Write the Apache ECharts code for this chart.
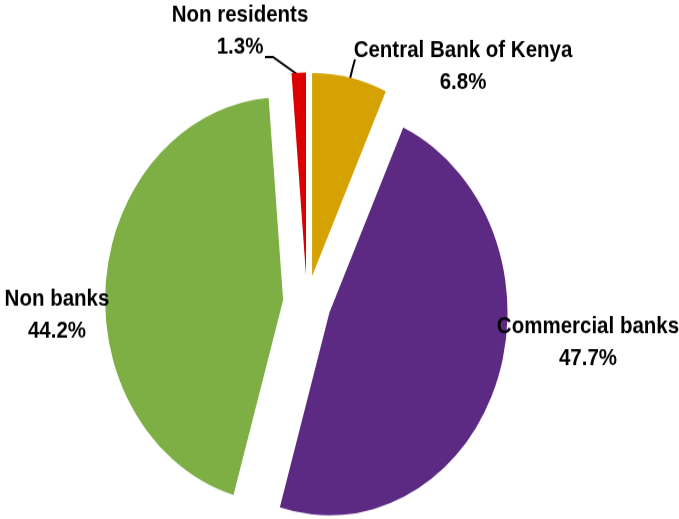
<!DOCTYPE html>
<html>
<head>
<meta charset="utf-8">
<script src="https://cdn.jsdelivr.net/npm/echarts@6/dist/echarts.min.js"></script>
<style>
html,body{margin:0;padding:0;background:#fff;overflow:hidden;}
#wrap{width:679px;height:519px;overflow:hidden;}
#chart{width:679px;height:455px;transform:scaleY(1.1407);transform-origin:0 0;}
</style>
</head>
<body>
<div id="wrap"><div id="chart"></div></div>
<script>
const categories = ['Central Bank of Kenya', 'Commercial banks', 'Non banks', 'Non residents'];
const shares = [6.8, 47.7, 44.2, 1.3];
const colors = ['#D6A103', '#5C2983', '#7DAF45', '#DD0000'];

// layout (unscaled chart coordinates)
const CX = 307, CY = 265.5, R = 178, EXPLODE = 24;
const labelPos = [
  {x: 463, y: 58},
  {x: 588, y: 300},
  {x: 57, y: 276},
  {x: 240, y: 27.5}
];
const linePts = {
  0: [[350, 69], [352.5, 60], [355, 52]],
  3: [[297, 65], [273, 50], [265, 50]]
};

const total = shares.reduce((a, b) => a + b, 0);
let acc = 0;
const series = categories.map((name, i) => {
  const start = acc / total * 2 * Math.PI;
  acc += shares[i];
  const end = acc / total * 2 * Math.PI;
  const mid = (start + end) / 2;
  return {
    type: 'pie',
    name: name,
    center: [CX + EXPLODE * Math.sin(mid), CY - EXPLODE * Math.cos(mid)],
    radius: [0, R],
    startAngle: 90,
    clockwise: true,
    silent: true,
    avoidLabelOverlap: false,
    emphasis: {disabled: true},
    data: categories.map((c, j) => ({
      name: c,
      value: shares[j],
      itemStyle: {color: j === i ? colors[j] : 'rgba(0,0,0,0)'},
      label: {show: j === i},
      labelLine: {show: j === i && (j === 0 || j === 3)}
    })),
    label: {
      position: 'outside',
      alignTo: 'none',
      overflow: 'none',
      formatter: '{b}\n{c}%',
      fontFamily: 'Liberation Sans',
      fontWeight: 'bold',
      fontSize: 20.5,
      lineHeight: 28,
      color: '#000',
      align: 'center'
    },
    labelLine: {
      lineStyle: {color: '#000', width: 2}
    },
    labelLayout: function (p) {
      const pos = labelPos[p.dataIndex];
      const res = {x: pos.x, y: pos.y, align: 'center', verticalAlign: 'middle'};
      if (linePts[p.dataIndex]) res.labelLinePoints = linePts[p.dataIndex];
      return res;
    }
  };
});

const chart = echarts.init(document.getElementById('chart'), null, {renderer: 'canvas'});
chart.setOption({animation: false, series: series});
</script>
</body>
</html>
